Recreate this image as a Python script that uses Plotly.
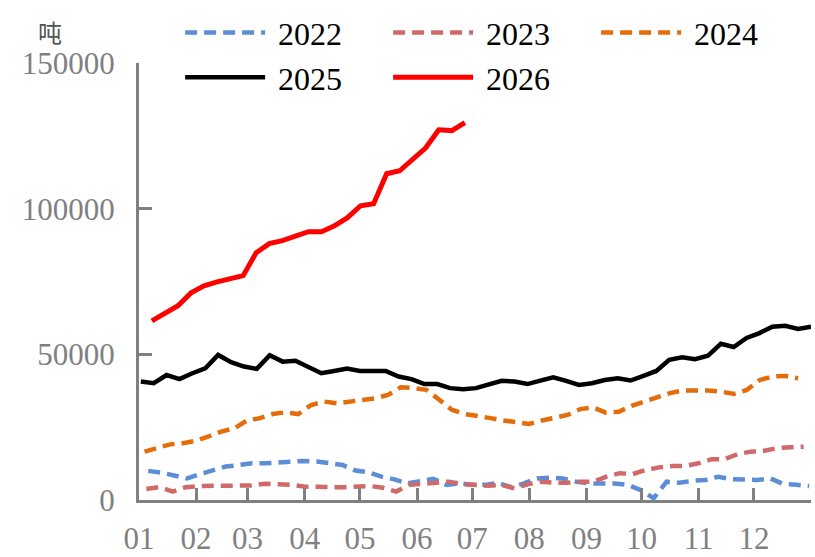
import pandas as pd
import plotly.graph_objects as go

# ---- data (weekly values, tonnes) ----
v2022 = [10000, 9400, 8400, 7400, 8900, 10300, 11500, 12000, 12600, 12600, 12800, 13200, 13400,
         13200, 12600, 12000, 10100, 9500, 8000, 7100, 5700, 6600, 7300, 5200, 5700, 5200,
         5200, 5900, 4400, 5700, 7400, 7700, 7400, 6300, 5700, 5700, 5700, 5200, 3400, 600,
         6300, 5900, 6600, 6900, 8000, 7100, 6900, 6900, 7400, 5500, 5200, 4800]
v2023 = [3800, 4400, 2900, 4400, 4800, 4800, 4900, 4800, 5000, 5600, 5500, 5200, 4600, 4400,
         4400, 4400, 4600, 4800, 4200, 2900, 5200, 5500, 5900, 6300, 5500, 5200,
         4900, 5200, 4000, 5400, 6300, 5900, 5900, 6300, 6300, 8000, 9200, 8900, 10300, 11200,
         11700, 11700, 12600, 14000, 14000, 15800, 16600, 16900, 17800, 18100, 18300]
v2024 = [16600, 17900, 19100, 19500, 20300, 21800, 23500, 24600, 27300, 28100, 29500, 30100,
         29500, 32600, 33800, 33200, 33800, 34400, 34900, 36100, 38700, 38400, 37800, 34400,
         30900, 29500, 28900, 28100, 27300, 26600, 26100, 27300, 28400, 29200, 31200, 31800,
         30000, 30300, 32300, 33800, 35300, 36700, 37600, 37600, 37600, 37200, 36400, 37800,
         41200, 42400, 42600, 41800]
v2025 = [40650, 40100, 42900, 41500, 43500, 45200, 49800, 47300, 45800, 45000, 49700, 47500,
         47800, 45800, 43500, 44300, 45100, 44300, 44300, 44300, 42400, 41500, 39800, 39800,
         38400, 38000, 38400, 39500, 40900, 40700, 39800, 41000, 42100, 40900, 39500, 40100,
         41200, 41800, 41000, 42600, 44300, 48100, 49000, 48300, 49500, 53600, 52500, 55600,
         57300, 59500, 59800, 58700, 59500]
v2026 = [61500, 63900, 66700, 71100, 73500, 74900, 75900, 77000, 84900, 88000, 89000, 90400,
         92100, 92100, 94100, 96900, 101000, 101700, 112000, 113000, 117200, 120900, 127100,
         126800, 129500]

series_names = ["2022", "2023", "2024", "2025", "2026"]
series_values = [v2022, v2023, v2024, v2025, v2026]
# first/last week dates of each series, mapped onto a common calendar year
series_span = [("2021-01-06", "2021-12-31"), ("2021-01-05", "2021-12-28"),
               ("2021-01-04", "2021-12-25"), ("2021-01-02", "2022-01-01"),
               ("2021-01-08", "2021-06-27")]
month_ticks = pd.date_range("2021-01-01", "2022-01-01", freq="MS")
month_labels = [f"{m:02d}" for m in range(1, 13)] + [""]
y_ticks = [0, 50000, 100000, 150000]
y_labels = [str(v) for v in y_ticks]

colors = ["#5B8ED6", "#D06A6A", "#E46C0A", "#000000", "#FF0000"]
dashes = ["12px,7px", "12px,7px", "12px,7px", "solid", "solid"]
widths = [4.5, 4.5, 4.5, 4.5, 5]

fig = go.Figure()
for name, vals, span, c, d, w in zip(series_names, series_values, series_span, colors, dashes, widths):
    x = pd.date_range(span[0], span[1], periods=len(vals))
    fig.add_trace(go.Scatter(x=x, y=vals, mode="lines", name=" " + name,
                             line=dict(color=c, dash=d, width=w)))

axis_gray = "#808080"
fig.update_layout(
    width=815, height=557,
    margin=dict(l=139, r=4, t=63, b=57, autoexpand=False),
    paper_bgcolor="white", plot_bgcolor="white",
    showlegend=True,
    legend=dict(orientation="h", xref="container", yref="container",
                x=0.221, xanchor="left", y=0.9906, yanchor="top",
                font=dict(family="Liberation Sans Narrow", size=32, color="black"),
                bgcolor="rgba(0,0,0,0)", itemwidth=80, entrywidth=113,
                tracegroupgap=0, traceorder="normal"),
    xaxis=dict(type="date", range=["2021-01-01", "2022-01-01"],
               tickvals=month_ticks, ticktext=month_labels,
               showline=True, linecolor=axis_gray, linewidth=3,
               ticks="inside", ticklen=12, tickwidth=3, tickcolor=axis_gray,
               showgrid=False, zeroline=False, ticklabelstandoff=9, automargin=False,
               tickfont=dict(family="Liberation Sans Narrow", size=31, color=axis_gray)),
    yaxis=dict(range=[0, 150000], tickvals=y_ticks, ticktext=y_labels,
               showline=True, linecolor=axis_gray, linewidth=3,
               ticks="inside", ticklen=13, tickwidth=3, tickcolor=axis_gray,
               showgrid=False, zeroline=False, ticklabelstandoff=15, automargin=False,
               tickfont=dict(family="Liberation Serif", size=31, color=axis_gray)),
    annotations=[dict(text="吨", xref="paper", yref="paper", x=-0.132, y=1.0732,
                      xanchor="center", yanchor="middle", showarrow=False,
                      font=dict(family="Noto Sans CJK SC", size=24, color="#555555"))],
)

fig.write_html("out.html")
